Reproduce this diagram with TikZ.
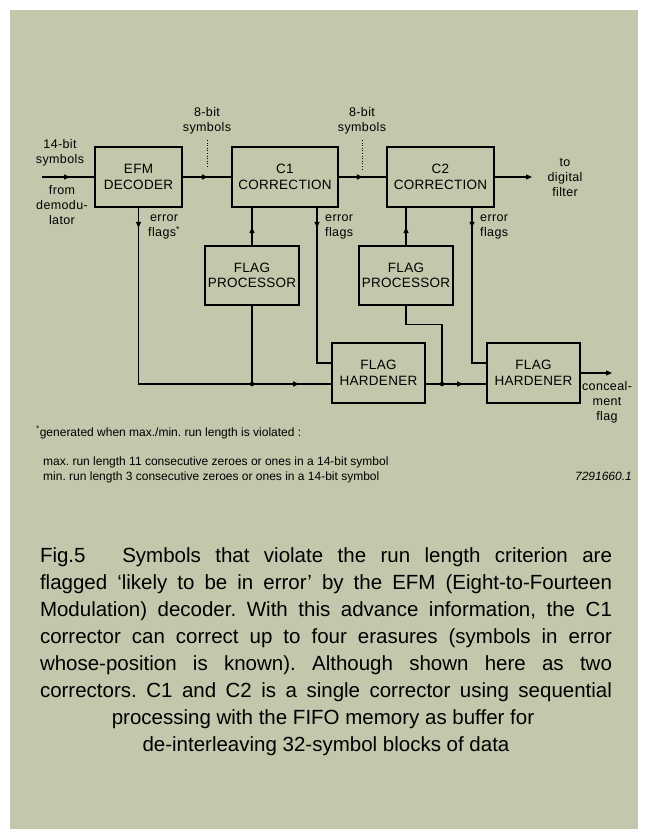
\documentclass[tikz,border=0pt]{standalone}
\usepackage{fontspec}
\setmainfont{Liberation Sans}
\newfontfamily\bxfam{Liberation Sans}[LetterSpace=2.0]
\newfontfamily\lbfam{Liberation Sans}[LetterSpace=3.0]
\usetikzlibrary{arrows.meta,decorations.markings,calc}
\definecolor{panel}{RGB}{196,199,171}
\newcommand\bxfont{\bxfam\fontsize{13.5}{15.5}\selectfont}
\newcommand\lbfont{\lbfam\fontsize{12.5}{15}\selectfont}
\newcommand\ftfont{\fontsize{12}{14}\selectfont}
\newcommand\cpfont{\fontsize{20.5}{27}\selectfont}
\frenchspacing
\begin{document}
\begin{tikzpicture}[x=1pt,y=-1pt,
  box/.style={draw, line width=1.7pt, inner sep=0pt, align=center, font=\bxfont, minimum height=60pt},
  conn/.style={line width=1.2pt},
  arrowat/.style={postaction={decorate,decoration={markings,mark=at position #1 with {\arrow{Triangle[length=6pt,width=5pt]}}}}},
  lbl/.style={font=\lbfont, align=center, inner sep=0pt},
  dotnode/.style={circle, fill, inner sep=0pt, minimum size=4.5pt},
  dotline/.style={line width=0.8pt, dash pattern=on 1pt off 1.6pt},
  foot/.style={font=\ftfont, anchor=base west, inner sep=0pt},
  capline/.style={font=\cpfont, anchor=base, inner sep=0pt}]
\useasboundingbox (0,0) rectangle (649,832);
\fill[white] (0,0) rectangle (649,832);
\fill[panel] (10,10) rectangle (638,829);

% boxes
\node[box, minimum width=87pt] (EFM) at (138.5,177) {EFM\\DECODER};
\node[box, minimum width=106pt] (C1) at (285,177) {C1\\CORRECTION};
\node[box, minimum width=107pt] (C2) at (440.5,177) {C2\\CORRECTION};
\node[box, minimum width=94pt, minimum height=59pt] (FP1) at (252,275.5) {FLAG\\PROCESSOR};
\node[box, minimum width=94pt, minimum height=59pt] (FP2) at (406,275.5) {FLAG\\PROCESSOR};
\node[box, minimum width=93pt] (FH1) at (378.5,373) {FLAG\\HARDENER};
\node[box, minimum width=93pt] (FH2) at (533.5,373) {FLAG\\HARDENER};

% main signal path
\coordinate (in) at (42,177);
\coordinate (out) at (532,177);
\draw[conn, arrowat=28pt] (in) -- (EFM.west);
\draw[conn, arrowat=25pt] (EFM.east) -- (C1.west);
\draw[conn, arrowat=24pt] (C1.east) -- (C2.west);
\draw[conn, -{Triangle[length=6pt,width=5pt]}] (C2.east) -- (out);

% dotted markers
\coordinate (m1a) at (207,140); \coordinate (m1b) at (207,168);
\coordinate (m2a) at (362,140); \coordinate (m2b) at (362,170);
\draw[dotline] (m1a) -- (m1b);
\draw[dotline] (m2a) -- (m2b);

% flag paths
\draw[conn, arrowat=20pt, arrowat=-32pt] (EFM.south) |- ([yshift=-11pt]FH1.west);
\draw[conn, arrowat=18pt] (FP1.north) -- (FP1.north |- C1.south);
\draw[conn, arrowat=20pt] ([xshift=32pt]C1.south) |- ([yshift=10pt]FH1.west);
\path ([yshift=-11pt]FH1.west) coordinate (hb1);
\coordinate (d1) at (FP1.south |- hb1);
\draw[conn] (FP1.south) -- (d1);
\node[dotnode] (dot1) at (d1) {};
\coordinate (d2) at (442,384);
\draw[conn] (FP2.south) -- ++(0,19) -| (d2);
\draw[conn, arrowat=-23pt] ([yshift=-11pt]FH1.east) -- ([yshift=-11pt]FH2.west);
\node[dotnode] (dot2) at (d2) {};
\draw[conn, arrowat=18pt] (FP2.north) -- (FP2.north |- C2.south);
\draw[conn, arrowat=20pt] ([xshift=31.5pt]C2.south) |- ([yshift=10pt]FH2.west);
\coordinate (out2) at (612,373);
\draw[conn, -{Triangle[length=6pt,width=5pt]}] (FH2.east) -- (out2);

% labels
\node[lbl] (l8a) at (207,121) {8-bit\\symbols};
\node[lbl] (l8b) at (362,121) {8-bit\\symbols};
\node[lbl] (l14) at (60,153) {14-bit\\symbols};
\node[lbl] (lfrom) at (62,205) {from\\demodu-\\lator};
\node[lbl] (lto) at (565,178) {to\\digital\\filter};
\node[lbl] (lcon) at (607,402) {conceal-\\ment\\flag};
\node[lbl, anchor=west] (le1) at (148,227) {error\\flags\textsuperscript{*}};
\node[lbl, anchor=west] (le2) at (325,227) {error\\flags};
\node[lbl, anchor=west] (le3) at (480,227) {error\\flags};

% footnote
\node[foot] (f1) at (36,436) {\textsuperscript{*}generated when max./min. run length is violated :};
\node[foot] (f2) at (43,465) {max. run length 11 consecutive zeroes or ones in a 14-bit symbol};
\node[foot] (f3) at (43,480) {min. run length 3 consecutive zeroes or ones in a 14-bit symbol};
\node[font=\ftfont\itshape, anchor=base east, inner sep=0pt] (fid) at (632,480) {7291660.1};

% caption
\node[capline] (c1) at (326,562) {\hbox to 572pt{Fig.5\hspace{10pt plus 4pt} Symbols that violate the run length criterion are}};
\node[capline] (c2) at (326,589) {\hbox to 572pt{flagged `likely to be in error' by the EFM (Eight-to-Fourteen}};
\node[capline] (c3) at (326,616) {\hbox to 572pt{Modulation) decoder. With this advance information, the C1}};
\node[capline] (c4) at (326,643) {\hbox to 572pt{corrector can correct up to four erasures (symbols in error}};
\node[capline] (c5) at (326,670) {\hbox to 572pt{whose-position is known). Although shown here as two}};
\node[capline] (c6) at (326,697) {\hbox to 572pt{correctors. C1 and C2 is a single corrector using sequential}};
\node[capline] (c7) at (323,724) {processing with the FIFO memory as buffer for};
\node[capline] (c8) at (326,751) {de-interleaving 32-symbol blocks of data};
\end{tikzpicture}
\end{document}
